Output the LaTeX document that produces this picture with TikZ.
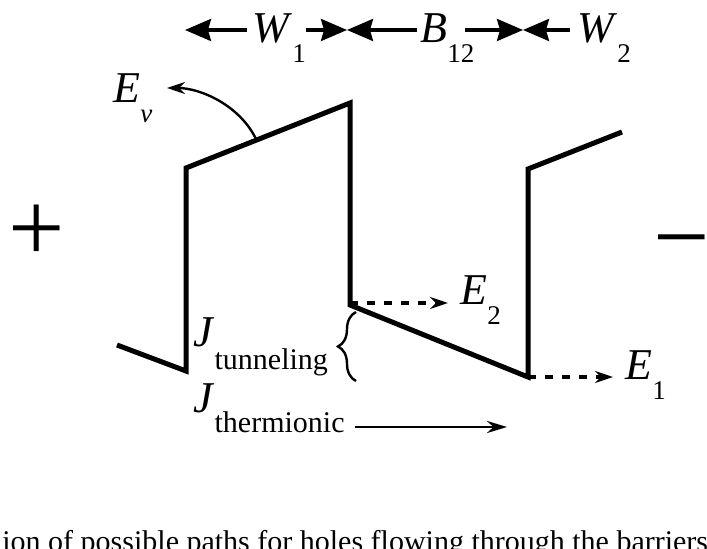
\documentclass[tikz,border=0pt]{standalone}
\usepackage{fontspec}
\setmainfont{Liberation Serif}
\usetikzlibrary{calc,arrows.meta,decorations.pathreplacing}
\newcommand{\bigsz}{\fontsize{22pt}{22pt}\selectfont}
\newcommand{\subsz}{\fontsize{13.5pt}{13.5pt}\selectfont}
\newcommand{\lvl}[2]{\textit{#1}\raisebox{-10pt}{\subsz #2}}

\begin{document}
\begin{tikzpicture}[x=0.5pt, y=-0.5pt, >=Stealth,
  bandline/.style={line width=2.5pt},
  dimarrow/.style={line width=1.6pt, -{Stealth[length=13pt,width=11pt,inset=1.5pt]}},
  flowarrow/.style={line width=1.6pt, dash pattern=on 4pt off 4.5pt, -{Stealth[length=9pt,width=6pt]}},
  sym/.style={font=\bigsz, inner sep=0pt, anchor=base west},
  sign/.style={font=\fontsize{50pt}{50pt}\selectfont, inner sep=0pt, anchor=north}]

  \useasboundingbox (0,0) rectangle (707,549);

  % Valence band edge
  \coordinate (b0) at (117,345);
  \coordinate (b1) at (186,371);
  \coordinate (b2) at (186,168);
  \coordinate (b3) at (350,103);
  \coordinate (b4) at (350,305);
  \coordinate (b5) at (528,377);
  \coordinate (b6) at (528,169);
  \coordinate (b7) at (622,132);
  \draw[bandline] (b0) -- (b1) -- (b2) -- (b3) -- (b4) -- (b5) -- (b6) -- (b7);

  % Bias signs
  \node[sign] (plus) at (37,205) {+};
  \node[sign] (minus) at (682,234) {−};

  % Widths on top
  \coordinate (d0) at (185,30);
  \coordinate (d1) at (347,30);
  \coordinate (d2) at (523,30);
  \node[sym] (W1) at (252,43) {\lvl{W}{1}};
  \node[sym] (B12) at (420,43) {\lvl{B}{12}};
  \node[sym] (W2) at (577,43) {\lvl{W}{2}};
  \draw[dimarrow] ($(W1.west |- d0)+(-5,0)$) -- (d0);
  \draw[dimarrow] (W1.east |- d0) -- (d1);
  \draw[dimarrow] ($(B12.west |- d0)+(-3,0)$) -- (d1);
  \draw[dimarrow] ($(B12.east |- d0)+(-10,0)$) -- (d2);
  \draw[dimarrow] ($(W2.west |- d0)+(-7,0)$) -- (d2);

  % Band label
  \node[sym] (Ev) at (113,103) {\lvl{E}{\textit{v}}};
  \coordinate (evfoot) at ($(b2)!0.43!(b3)$);
  \coordinate (evtip) at (167,88);
  \draw[line width=1.2pt, -{Stealth[length=9pt,width=6pt]}] (evfoot) .. controls (240,105) and (200,88) .. (evtip);

  % Energy levels
  \node[sym] (E2) at (460,305) {\lvl{E}{2}};
  \node[sym] (E1) at (625,380) {\lvl{E}{1}};
  \coordinate (e2tip) at (448,303);
  \coordinate (e1tip) at (613,377);
  \draw[flowarrow] (b4 |- e2tip) -- (e2tip);
  \draw[flowarrow] (b5) -- (e1tip);

  % Current paths
  \node[sym] (Jtun) at (193,347) {\textit{J}\raisebox{-11.5pt}{\fontsize{15pt}{15pt}\selectfont tunneling}};
  \node[sym] (Jthe) at (193,413) {\textit{J}\raisebox{-10pt}{\fontsize{15pt}{15pt}\selectfont thermionic}};
  \draw[line width=1.2pt, decorate, decoration={brace, amplitude=9pt}] (356,381) -- (356,312);
  \coordinate (th0) at (355,427);
  \coordinate (th1) at (507,427);
  \draw[line width=1.4pt, -{Stealth[length=10pt,width=6pt]}] (th0) -- (th1);

  % Caption line, cut by the page edge
  \node[anchor=base west, inner sep=0pt, font=\fontsize{15pt}{15pt}\selectfont] (cap) at (2,552) {ion of possible paths for holes flowing through the barriers};
\end{tikzpicture}
\end{document}
